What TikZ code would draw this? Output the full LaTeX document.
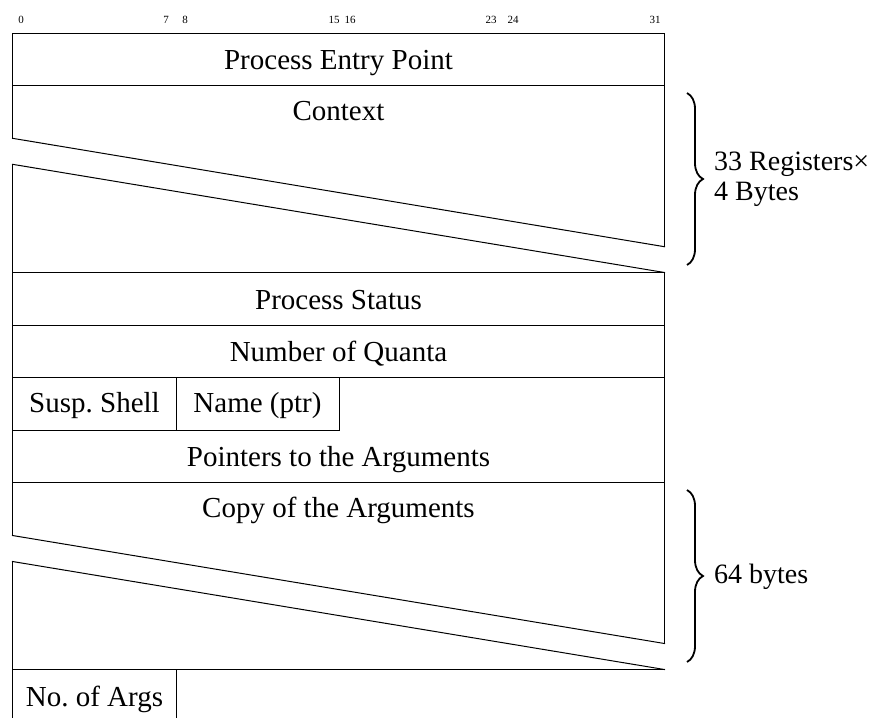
\documentclass[tikz,border=0pt]{standalone}
\usepackage{fontspec}
\setmainfont{Liberation Serif}
\usetikzlibrary{decorations.pathreplacing}
\frenchspacing
\begin{document}
\begin{tikzpicture}[x=1pt,y=-1pt,
  frame/.style={line width=1pt,line cap=rect},
  field/.style={anchor=base,inner sep=0pt,font=\fontsize{29}{34}\selectfont},
  bitno/.style={anchor=base,inner sep=0pt,font=\fontsize{11}{13}\selectfont},
  note/.style={anchor=base west,inner sep=0pt,font=\fontsize{28}{33}\selectfont},
  bracket/.style={decorate,decoration={brace,amplitude=16pt},line width=1.8pt}]
\useasboundingbox (0,0) rectangle (887,718);

% bit numbers along the top
\foreach \b/\x in {0/21,7/166,8/185,15/334,16/350,23/491,24/513,31/655}
  \node[bitno] (bit\b) at (\x,23) {\b};

% outer frame, broken where the two variable-length areas are cut
\draw[frame] (12.5,138.3) -- (12.5,33) -- (664.5,33) -- (664.5,246.7);
\draw[frame] (12.5,138.3) -- (664.5,246.7);
\draw[frame] (12.5,164.3) -- (664.5,272.5);
\draw[frame] (12.5,164.3) -- (12.5,535.5);
\draw[frame] (664.5,272.5) -- (664.5,643.5);
\draw[frame] (12.5,535.5) -- (664.5,643.5);
\draw[frame] (12.5,561.5) -- (664.5,669.5);
\draw[frame] (12.5,561.5) -- (12.5,718);

% row separators
\draw[frame] (12.5,85) -- (664.5,85);
\draw[frame] (12.5,272.5) -- (664.5,272.5);
\draw[frame] (12.5,325) -- (664.5,325);
\draw[frame] (12.5,377.5) -- (664.5,377.5);
\draw[frame] (12.5,482.5) -- (664.5,482.5);
\draw[frame] (12.5,669.5) -- (664.5,669.5);

% byte-wide boxes
\draw[frame] (176,377.5) -- (176,430);
\draw[frame] (12.5,430) -- (339,430) -- (339,377.5);
\draw[frame] (176,669.5) -- (176,718);

% field names
\node[field] (entry)  at (338.5,69)  {Process Entry Point};
\node[field] (ctx)    at (338.5,120) {Context};
\node[field] (status) at (338.5,309) {Process Status};
\node[field] (quanta) at (338.5,361.5) {Number of Quanta};
\node[field] (susp)   at (94.5,412)  {Susp. Shell};
\node[field] (name)   at (257.5,412) {Name (ptr)};
\node[field] (ptrs)   at (338.5,466) {Pointers to the Arguments};
\node[field] (copy)   at (338.5,517) {Copy of the Arguments};
\node[field] (nargs)  at (94.5,706)  {No. of Args};

% size annotations
\coordinate (b1top) at (687,93);
\coordinate (b1bot) at (687,265);
\coordinate (b2top) at (687,490);
\coordinate (b2bot) at (687,662);
\draw[bracket] (b1top) -- (b1bot);
\draw[bracket] (b2top) -- (b2bot);
\node[note] (regs)  at (714,170) {33 Registers×};
\node[note] (bytes) at (714,200) {4 Bytes};
\node[note] (argsz) at (714,583) {64 bytes};
\end{tikzpicture}
\end{document}
